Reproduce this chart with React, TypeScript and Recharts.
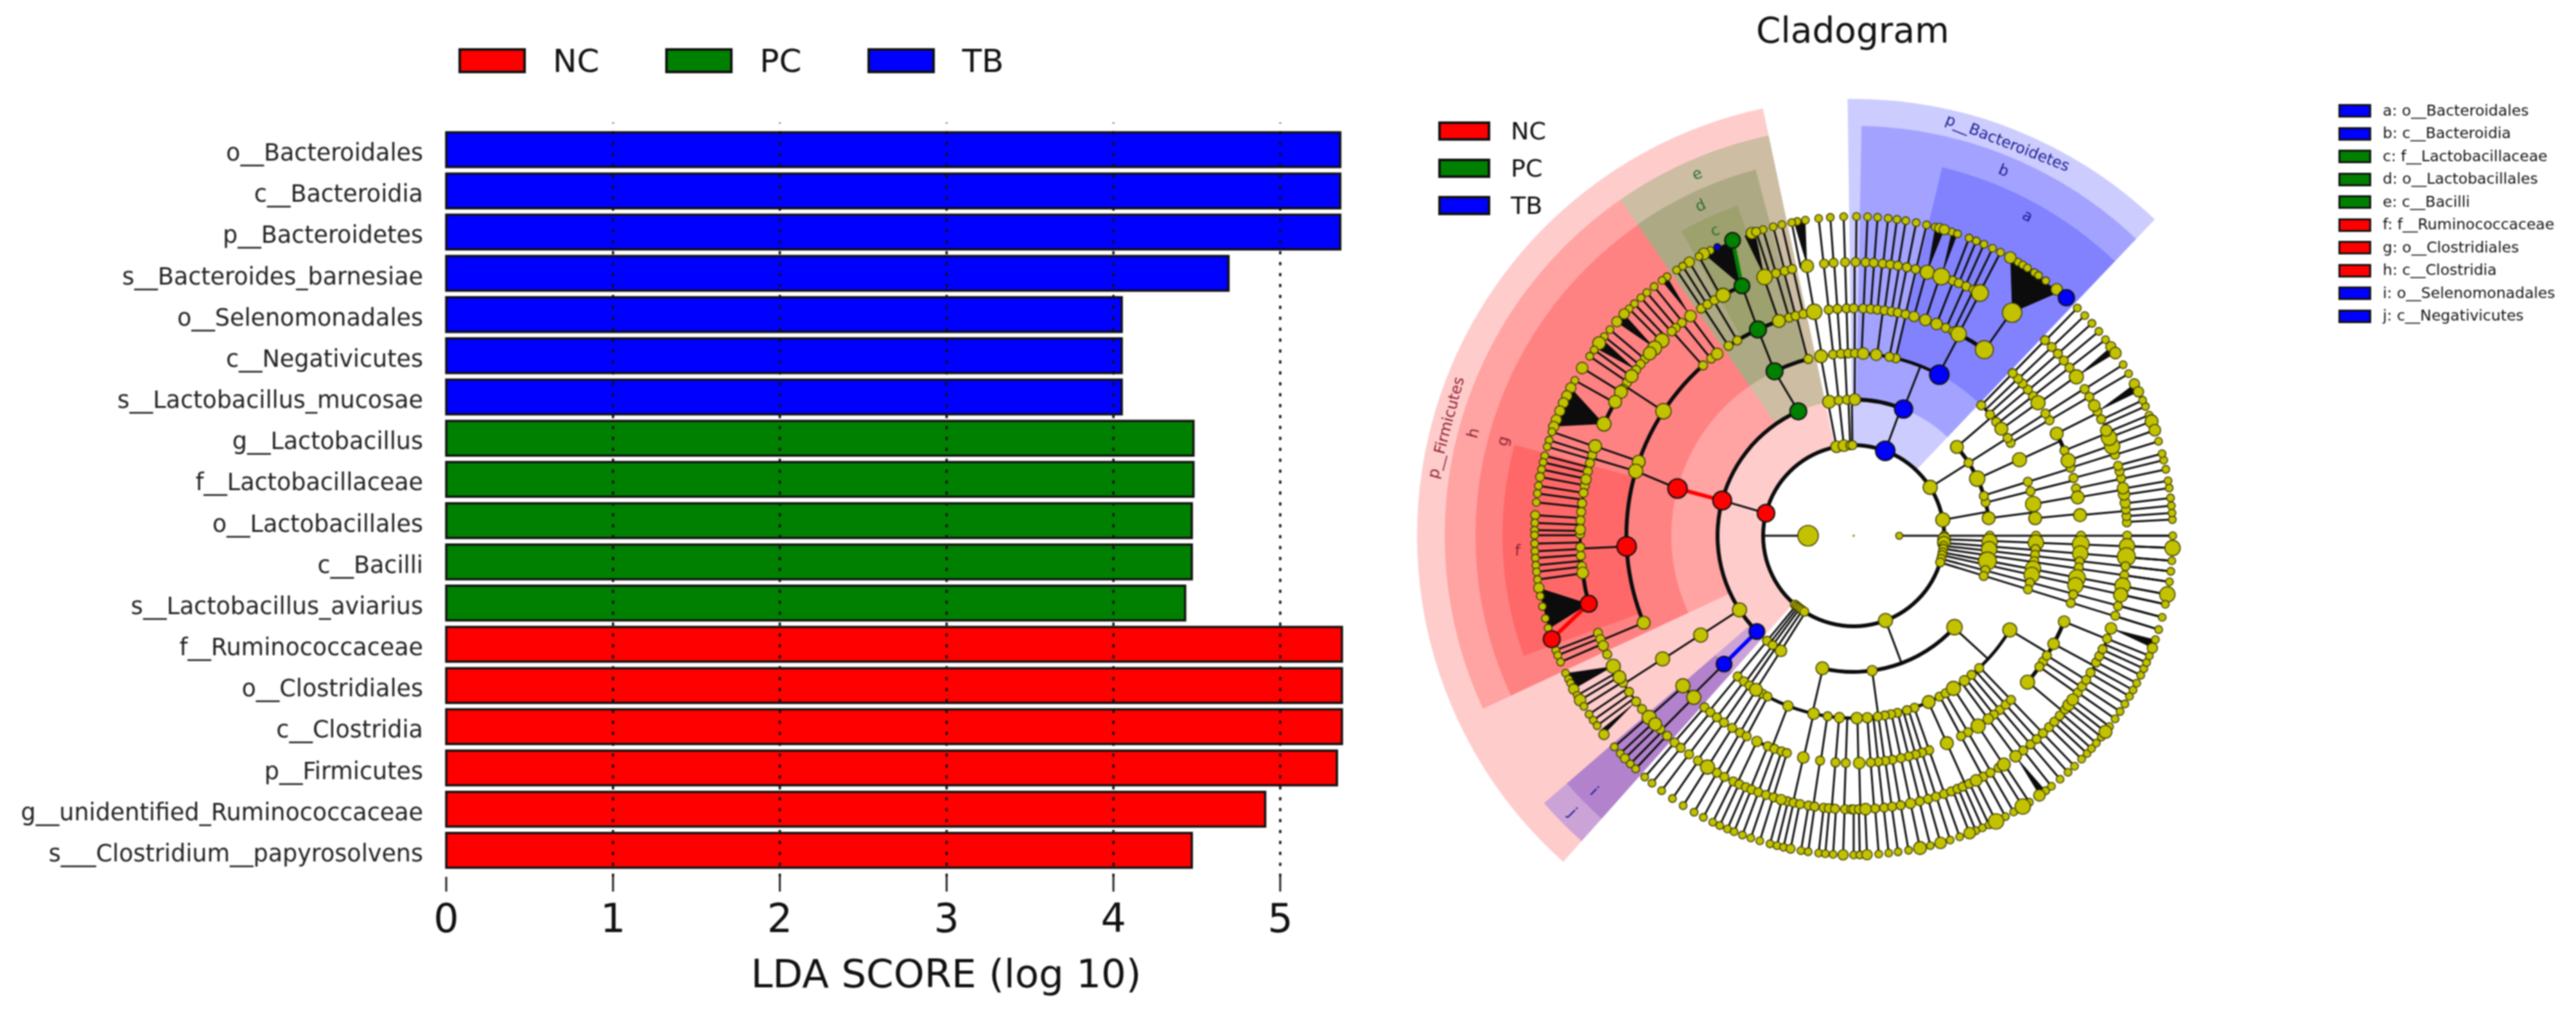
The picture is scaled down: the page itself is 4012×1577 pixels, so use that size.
import React from 'react';
import { BarChart, Bar, XAxis, YAxis, ReferenceLine, PieChart, Pie, ScatterChart, Scatter } from 'recharts';

const FONT = '"DejaVu Sans", sans-serif';
const RED = '#FF0000';
const GREEN = '#008000';
const BLUE = '#0000FF';
const OLIVE = '#C2C200';
// tints that stack to the brownish and purple overlaps of the clade shading
const ORDER_GREEN = '#305810';
const FAMILY_GREEN = '#608010';
const ORDER_PURPLE = '#4C00A4';

// ---- LDA bars
const taxa = [
  'o__Bacteroidales', 'c__Bacteroidia', 'p__Bacteroidetes', 's__Bacteroides_barnesiae', 'o__Selenomonadales',
  'c__Negativicutes', 's__Lactobacillus_mucosae', 'g__Lactobacillus', 'f__Lactobacillaceae', 'o__Lactobacillales',
  'c__Bacilli', 's__Lactobacillus_aviarius', 'f__Ruminococcaceae', 'o__Clostridiales', 'c__Clostridia',
  'p__Firmicutes', 'g__unidentified_Ruminococcaceae', 's___Clostridium__papyrosolvens',
];
const tbScores = [5.36, 5.36, 5.36, 4.69, 4.05, 4.05, 4.05];
const pcScores = [4.48, 4.48, 4.47, 4.47, 4.43];
const ncScores = [5.37, 5.37, 5.37, 5.34, 4.91, 4.47];
const scoreTicks = [0, 1, 2, 3, 4, 5];
const gridTicks = [1, 2, 3, 4, 5];

const barRows = taxa.map((name, i) => ({
  name,
  TB: i < 7 ? tbScores[i] : null,
  PC: i >= 7 && i < 12 ? pcScores[i - 7] : null,
  NC: i >= 12 ? ncScores[i - 12] : null,
}));

// ---- legends
const groups = [
  { label: 'NC', color: RED },
  { label: 'PC', color: GREEN },
  { label: 'TB', color: BLUE },
];
const cladeKey = [
  { label: 'a: o__Bacteroidales', color: BLUE },
  { label: 'b: c__Bacteroidia', color: BLUE },
  { label: 'c: f__Lactobacillaceae', color: GREEN },
  { label: 'd: o__Lactobacillales', color: GREEN },
  { label: 'e: c__Bacilli', color: GREEN },
  { label: 'f: f__Ruminococcaceae', color: RED },
  { label: 'g: o__Clostridiales', color: RED },
  { label: 'h: c__Clostridia', color: RED },
  { label: 'i: o__Selenomonadales', color: BLUE },
  { label: 'j: c__Negativicutes', color: BLUE },
];

// ---- cladogram: radius of each taxonomic level
const levelRadii = [0, 71, 141, 212, 284, 354, 426, 497];

// shaded clades: label, colour, inner level, outer radius, start and end angle
type Wedge = [string, string, number, number, number, number];
const wedges: Wedge[] = [
  ['p__Firmicutes', RED, 141, 680, 102, 228.3],
  ['h', RED, 212, 637, 124.8, 205],
  ['g', RED, 284, 589, 124.8, 205],
  ['f', RED, 354, 547, 165, 200],
  ['p__Bacteroidetes', BLUE, 141, 680, 46.4, 90.8],
  ['b', BLUE, 212, 638, 46.4, 88.9],
  ['a', BLUE, 284, 590, 46.4, 76.5],
  ['e', GREEN, 212, 637, 102, 124.8],
  ['d', ORDER_GREEN, 284, 590, 105, 124.8],
  ['c', FAMILY_GREEN, 354, 545, 109.4, 119.5],
  ['j', BLUE, 212, 637, 220.8, 228.3],
  ['i', ORDER_PURPLE, 284, 590, 220.8, 228.3],
];
const wedgeTextColors: Record<string, string> = {
  [RED]: '#8a2230', [BLUE]: '#1c1c90', [GREEN]: '#2c6e2c', [ORDER_GREEN]: '#2c6e2c', [FAMILY_GREEN]: '#2c6e2c', [ORDER_PURPLE]: '#1c1c90',
};

// heavy arcs: level, from angle, to angle, width
const arcs: [number, number, number, number][] = [
  [2, 0, 360, 6], [3, 114, 224.7, 6], [3, 68.5, 100.4, 6], [3, 7.4, 40.7, 6], [3, 256.7, 317.8, 6],
  [4, 62, 87, 5], [4, 104.4, 115.7, 6], [4, 30.6, 32.4, 4], [4, 35.9, 45.6, 4], [4, 237.6, 328.9, 5],
  [5, 54.9, 62.5, 6], [5, 100, 123.4, 6], [5, 131.5, 202.5, 6], [5, 17.4, 26.7, 6], [5, 221.3, 225.3, 4],
  [5, 319.9, 337.8, 6], [5, 244.8, 252.9, 5],
  [6, 134.5, 150.7, 3], [6, 150.7, 155.9, 6], [6, 160.9, 194.4, 4], [6, 187.8, 194.4, 6], [6, 200.8, 205.7, 3],
  [6, 208.5, 227, 3], [6, 114.1, 123.9, 6], [6, 103, 109, 4], [6, 323, 340.2, 3], [6, 306.3, 312, 3],
  [6, 2.8, 6.9, 3], [6, 8.7, 14.8, 3], [6, 17.2, 22.6, 3], [6, 25.2, 28.4, 3],
];

// radial runs: from level, to level, angles
const spokeRuns: [number, number, number[]][] = [
  [1, 2, [180, 0]],
  [2, 7, [0, -2.2, -4.5, -6.4, -8.3, -10.6, -12.4, -14.8, -17.1]],
  [2, 3, [10.1, 32.3, 100.9, 96.2, 92.2, 90.8, 69.6, 230.5, 232, 233.5, 235.5, 237.7, 290.6]],
  [3, 4, [7.4, 14.1, 17.2, 24.7, 32.4, 40.7, 100.4, 96.3, 92.8, 89.6, 68.5, 213, 230.5, 233.5, 235.2, 237.6, 256.9, 277.8, 317.5]],
  [4, 5, [5.5, 10, 14.1, 17.2, 24.6, 30.6, 32.5, 35.8, 37.9, 40, 42, 43.7, 45.6, 104.6, 100, 96.4, 94.1, 91.8, 89.7, 87.5, 82.6, 78.7, 76.7, 62.2, 212.9, 224.7,
    230.5, 233, 235.2, 237.7, 240, 241.9, 248.9, 257.3, 261.7, 265.4, 268, 271.2, 274.3, 276.2, 277.8, 279.8, 282, 284, 285.8, 287.5, 289.4, 294.2, 298.2, 300.2, 303.2, 306.3, 308.1, 310, 312, 313.8, 328.9]],
  [5, 6, [5.2, 9.7, 12, 14.7, 17.4, 19.3, 22, 26.7, 30.5, 32.5, 35.6, 37.9, 39.8, 41.7, 43.6, 45.6,
    54.8, 62.5, 64, 66, 68.6, 71.6, 74.6, 76.8, 78.8, 80.4, 82.2, 84, 85.7, 87.5, 89.8, 91.8, 94.1, 96.3, 100, 102.8, 104.8, 106.5, 109.2, 120.8, 123.4,
    126.7, 128.9, 131.6, 146.8, 160.9, 163.5, 182.7, 202.5, 212.8, 221.5, 225.3,
    229, 230.9, 233, 235.2, 237.7, 240, 241.9, 244.8, 247.8, 249.6, 251.5, 252.9, 257.2, 261.5, 265.4, 268, 271.4, 274.3, 276.2, 278, 279.8, 282, 284, 285.8, 287.5, 289.4, 294.2, 298.2, 300.2, 303.2, 306.3, 308.3, 310.3, 312, 313.8, 320, 324.8, 326.4, 328.2, 331.6, 337.8]],
];

// slanted single links: angle, level, angle, level
const links: [number, number, number, number][] = [
  [165.6, 2, 165, 3], [165, 4, 163.5, 5], [114, 3, 115.7, 4], [115.7, 4, 114.9, 5], [114.9, 5, 114.1, 6],
];
// coloured biomarker branches: angle, level, angle, level, colour
const markerBranches: [number, number, number, number, string][] = [
  [165, 3, 165, 4, RED], [194.4, 6, 198.9, 7, RED], [224.7, 3, 224.7, 4, BLUE], [114.1, 6, 112.3, 7, GREEN],
];
// dense fans: parent level 6 angle, then the span of tips on level 7
const fans: [number, number, number][] = [
  [54.6, 60.6, 49.8], [155.9, 152.4, 160], [194.4, 189.4, 197], [208.5, 205.5, 208.7], [114.1, 118, 112.6],
  [99.8, 100.8, 98.7], [74.4, 75.2, 73.5], [71.3, 72.1, 71], [340.2, 341, 339.4], [306.3, 307, 305.6],
  [35.5, 36.3, 34.9], [27, 28.4, 26.8], [109, 110, 108], [217.3, 218.5, 217.5], [126.6, 125.8, 127],
  [136.7, 136, 138], [142.7, 142, 144],
];

// nodes per level, plain angle = small dot, [angle, radius] = larger dot
type NodeList = (number | [number, number])[];
const level1: NodeList = [[180, 16], [0, 5.5]];
const level2: NodeList = [0, [-2.2, 10], [-4.5, 10], -6.4, -8.3, -10.6, -12.4, -14.8, -17.1,
  [10.1, 11], [32.3, 11], [100.9, 9], [96.2, 9], 92.2, 90.8, [290.6, 11],
  229.5, 231, 232.5, 234, 235.5, 237];
const level3: NodeList = [0, [-2.5, 12], [-5.7, 12], [-10.7, 14], -14.6, -17.2,
  [7.4, 10], 14.2, 17, [24.8, 12], 32.4, [40.7, 10], [100.4, 10], 96.3, 92.8, [89.5, 9],
  [213, 11], 230.5, 233.5, [237.7, 9], [256.7, 10], [277.8, 8], [317.8, 12]];
const level4: NodeList = [0, [-2.2, 12], -4.2, -6, -8, [-10.4, 12], [-12.4, 12], -14.9, -17.1,
  96.5, 94, 91.7, 89.6, 76.6, 78.7, 104.4, 14.1, 17.2, 30.6, 32.4, 38.6, 41.6, 45.6,
  230.5, 233, 235.2, 240, 241.8, 310.3, 313.5, 298.1, 300.3, 289.5, 287, 283.9, 281.8, 279.8, 277.6,
  [100.3, 10], [87, 9], [82.9, 9], [5.5, 10], [10, 12], [24.6, 11], [35.9, 10], [213, 11], [237.6, 10], [248.9, 8],
  [257.3, 9], [261.8, 7], [265.5, 8], [271, 9], [274.3, 8], [294.3, 10], [303.2, 11], [307.4, 8], [328.9, 11]];
const level5: NodeList = [0, [-2.1, 13], [-4.5, 12], -6.5, -8, [-10.7, 13], [-12.6, 12], -15, -17.2,
  123.4, 120.8, 106.5, 104.8, 102.8, 96.3, 94.1, 91.8, 90, 87.6, 85.7, 84, 82.2, 80.4, 78.8, 76.8, 66.1, 64, 131.5, 128.8,
  14.7, 12, 17.4, 22, 37.9, 40, 42, 43.7, 45.6, 30.5, 32.5, 229, 230.9, 233, 235.2, 237.7, 240, 241.9,
  247.8, 249.6, 251.5, 252.9, 261.5, 265.4, 268, 310, 312, 313.8, 308.1, 300.2, 298.2,
  289.4, 287.5, 285.8, 284, 282, 279.8, 278, 276.2, 274.3, 326.4, 324.8, 328.2,
  [109.2, 10], [100, 12], [74.6, 8], [71.6, 9], [68.6, 9], [62.5, 12], [54.9, 14], [126.9, 9], [146.8, 12], [161, 10], [163.5, 11],
  [202.5, 10], [212.8, 11], [221.3, 11], [225.3, 11], [5.2, 10], [9.7, 10], [19.3, 11], [26.7, 10], [35.8, 11], [244.8, 8],
  [257.2, 9], [271.4, 9], [294.2, 10], [303.2, 11], [306.3, 8], [319.9, 11], [331.6, 9], [337.8, 9]];
const level6: NodeList = [0, [-2.2, 12], [-4.4, 14], -6.4, -8.3, [-10.5, 12], [-12.5, 11], -14.9, -17,
  106.5, 104.6, 103, 96.2, 94.2, 91.8, 89.6, 87.5, 85.8, 83.9, 82.3, 80.7, 78.8, 76.9, 68.8, 67.4, 65.7, 64, 123.9, 122.3, 120.6,
  128.9, 130.6, 131.7, 139.7, 141.2, 142.7, 146, 147.5, 162.9, 164.6, 166.4, 169.5, 171, 173.2, 175, 176.8, 179.6, 182.4, 184.2, 186.4,
  200.8, 202.2, 205.7, 212.5, 214.8, 217.3, 219.3, 225, 227, 2.8, 4.1, 5.5, 12.1, 13.6, 14.8, 17.2, 25.2, 27, 30.5, 32.4, 37.9, 39.8, 41.7, 43.6, 45.6,
  229.1, 230.8, 233, 235.3, 240, 241.8, 243.9, 245.3, 246.8, 248.1, 249.6, 251.3, 253, 256, 257.3, 258.7, 260.5, 261.8, 263.7, 264.8, 266.1, 268.2, 269.5, 270, 271.1,
  274.5, 276.4, 278.1, 279.9, 284, 285.8, 287.5, 289.3, 290.9, 292.3, 293.5, 295, 298.3, 300, 302, 308.3, 310.3, 312, 313.8, 315.6, 317.2, 318.9, 320.6,
  325, 326.6, 328.2, 330, 332.4, 333.9, 335.5, 337.9,
  [118.5, 11], [109, 12], [99.8, 10], [74.4, 11], [71.3, 13], [62.5, 13], [54.6, 15], [126.6, 9], [134.5, 11], [136.7, 11], [138.2, 10], [144.3, 10], [148.3, 10], [150.7, 10],
  [155.9, 11], [160.9, 10], [168.1, 8], [178.7, 8], [187.8, 9], [203.7, 8], [208.5, 11], [211.1, 10], [221.6, 11], [223.5, 10], [6.9, 8], [8.7, 9], [10, 9], [19.1, 12], [21, 12],
  [22.6, 9], [28.4, 9], [35.5, 11], [237.7, 11], [254.6, 8], [282, 8], [272.5, 9], [296.6, 9], [303.3, 10], [306.3, 9], [321.8, 9], [323.2, 9], [340.2, 9]];
const level7: NodeList = [0, [-2.2, 12], -4.5, -6.4, -8.3, [-10.6, 12], -12.4, -14.8, -17.1,
  89.5, 87.5, 85.7, 83.8, 82.2, 80.6, 78.7, 76.8, 75.2, 72.1, 71, 68.8, 67.4, 65.9, 64.2, 62.6, 59, 58, 57, 55.5, 54.6, 53, 49.8,
  [74.4, 7.5], [73.5, 8], [60.6, 9], [50.5, 9],
  91.8, 94.2, 96.3, 98.7, 100.2, 101.2, 103, 104.6, 106.5, [108.6, 9], [107.8, 7], 116.7, [118, 9], 119, [121, 8], 122.4, 123.7,
  125.8, 126.9, 128.7, 130.4, 131.8, 133.4, 134.7, [136, 8], [137.9, 8], 139.8, 141.4, [142.9, 10], 144.4, 145.8, [148.3, 9], 150.9,
  [152.4, 8], [154, 8], [155.4, 8], [157, 8], [158.7, 8], [160, 8], 161,
  162.6, 163.8, 165.5, 166.7, 168, [169.4, 7], 171, 172.4, 174, [176.3, 7], 177.7, 179, 179.9, 181.4, 182.8, 184, 185.3, 186.5, 187.9,
  [189.4, 8], 190.9, 192.8, 195, 196.8, 201, 202, 203.3, 205.5, 206.7, 207.5, [208.7, 8], 210, [211, 9], 212.3, 214, 215.3, 216.5, [218.5, 8],
  221.4, 223, [224.2, 7], 225.6, 226.9,
  229.1, 230.8, 233, 235.4, 237.7, 240, 241.9, 243.8, 245.2, 246.7, 248, 249.6, 251.2, 252.9, 254.8, 256.1, 257.3, 260.5, 261.8, 263.7, 264.9, 266.3, 270, 271.1,
  274.5, 276.3, 278, 279.9, 283.9, 287.6, 289.4, 292.5, 293.8, 295.1, 298.4, 300.1, 303.4, 307, 308.3, 310.3, 312.2, 313.8, 315.6, 317, 318.2, 319.5, 320.9,
  323.3, 325, 326.6, 328.2, 329.8, 331.1, 332.5, 334.1, 335.4, 336.6, 337.9, 341,
  2.9, 4.1, 5.4, 6.8, 8.6, 9.9, 12, 13.7, 14.9, 17.2, 22.2, 23.9, 25.1, 30.5, 32.4, 37.9, 39.8, 41.7, 43.6, 45.5,
  [258.6, 7], [268.1, 8], [272.4, 8], [282, 10], [285.8, 9], [291.3, 9], [296.5, 12], [302, 12], [305.6, 9], [322.1, 10], [339.4, 8],
  [21, 10], [19.3, 9], [28.4, 8], [26.8, 8], [36.3, 8], [34.9, 9]];
const nodeLevels = [level1, level2, level3, level4, level5, level6, level7];

// biomarker nodes: level, angle, radius
const ncMarkers = [[2, 165.6, 13.5], [3, 165, 14.5], [4, 165, 15], [5, 182.7, 15], [6, 194.4, 13], [7, 198.9, 13]];
const pcMarkers = [[3, 114, 13], [4, 115.7, 13], [5, 114.9, 13], [6, 114.1, 12], [7, 112.3, 12]];
const tbMarkers = [[2, 69.6, 15], [3, 68.5, 14], [4, 62, 15], [7, 48.2, 12.5], [3, 224.7, 12], [4, 224.7, 12], [7, 115.3, 5]];

const CLADE_SIZE = 1400;
const CLADE_CX = 2887;
const CLADE_CY = 834;

const polar = (level: number, angle: number) => {
  const rad = (angle * Math.PI) / 180;
  return { x: levelRadii[level] * Math.cos(rad), y: levelRadii[level] * Math.sin(rad) };
};

const edge = (a1: number, l1: number, a2: number, l2: number, color = '#0c0c0c', width = 3) => {
  const from = polar(l1, a1);
  const to = polar(l2, a2);
  return { x: from.x, y: from.y, x2: to.x, y2: to.y, color, width };
};

const inFan = (angle: number) =>
  fans.some(([, a, b]) => angle <= Math.max(a, b) && angle >= Math.min(a, b));

const tipAngles = level7.map((n) => (Array.isArray(n) ? n[0] : n)).filter((a) => !inFan(a));

const edgeRows = [
  ...spokeRuns.flatMap(([from, to, angles]) => angles.map((a) => edge(a, from, a, to))),
  ...tipAngles.map((a) => edge(a, 6, a, 7)),
  ...links.map(([a1, l1, a2, l2]) => edge(a1, l1, a2, l2)),
  ...markerBranches.map(([a1, l1, a2, l2, c]) => edge(a1, l1, a2, l2, c, 6)),
];

const fanRows = fans.map(([parent, a, b]) => {
  const p = polar(6, parent);
  const t1 = polar(7, a);
  const t2 = polar(7, b);
  return { x: p.x, y: p.y, x2: t1.x, y2: t1.y, x3: t2.x, y3: t2.y };
});

const nodeRows = nodeLevels.flatMap((list, i) =>
  list.map((n) => {
    const [angle, r] = Array.isArray(n) ? n : [n, i === 6 ? 6 : 7];
    return { ...polar(i + 1, angle), r };
  })
);
const rootRow = [{ x: 0, y: 0, r: 2 }];
const markerRows = (list: number[][]) => list.map(([l, a, r]) => ({ ...polar(l, a), r }));

// the cladogram plot uses one data unit per pixel
const EdgeShape = ({ cx, cy, payload }: any) => (
  <line x1={cx} y1={cy} x2={cx + payload.x2 - payload.x} y2={cy - (payload.y2 - payload.y)}
    stroke={payload.color} strokeWidth={payload.width} strokeLinecap="round" />
);
const FanShape = ({ cx, cy, payload }: any) => (
  <polygon
    points={`${cx},${cy} ${cx + payload.x2 - payload.x},${cy - (payload.y2 - payload.y)} ${cx + payload.x3 - payload.x},${cy - (payload.y3 - payload.y)}`}
    fill="#0c0c0c" />
);
const dot = (fill: string, stroke: string, strokeWidth: number) => ({ cx, cy, payload }: any) => (
  <circle cx={cx} cy={cy} r={payload.r} fill={fill} stroke={stroke} strokeWidth={strokeWidth} />
);

const Swatches = ({ items, style, w, h, gap, border, fontSize, rowGap, row }: any) => (
  <div style={{ position: 'absolute', display: 'flex', flexDirection: row ? 'row' : 'column', fontFamily: FONT, ...style }}>
    {items.map((it: any) => (
      <div key={it.label} style={{ display: 'flex', alignItems: 'center', height: h, marginRight: row ? rowGap : 0, marginBottom: row ? 0 : rowGap }}>
        <div style={{ width: w, height: h, boxSizing: 'border-box', background: it.color, border: `${border}px solid #111` }} />
        <span style={{ marginLeft: gap, fontSize, lineHeight: 1, color: '#111', whiteSpace: 'nowrap' }}>{it.label}</span>
      </div>
    ))}
  </div>
);

const WedgeLabel = (w: Wedge) => () => {
  const [name, color, , outer, start, end] = w;
  const mid = (start + end) / 2;
  const rad = (mid * Math.PI) / 180;
  const r = outer - 23;
  const x = CLADE_SIZE / 2 + r * Math.cos(rad);
  const y = CLADE_SIZE / 2 - r * Math.sin(rad);
  const angle = mid > 180 ? mid - 180 : 90 - mid;
  return (
    <text x={x} y={y} transform={`rotate(${angle} ${x} ${y})`} textAnchor="middle" dominantBaseline="central"
      fontSize={24} fontFamily={FONT} fill={wedgeTextColors[color]}>
      {name}
    </text>
  );
};

const App = () => (
  <div style={{ position: 'absolute', left: 0, top: 0, width: 4012, height: 1577, background: '#fff', overflow: 'hidden', filter: 'blur(1.1px)' }}>
    <Swatches items={groups} row style={{ left: 714, top: 75 }} w={105} h={39} gap={42} border={4} fontSize={50} rowGap={103} />

    <div style={{ position: 'absolute', left: 0, top: 0 }}>
      <BarChart width={2100} height={1577} layout="vertical" data={barRows} margin={{ top: 169, right: 10, bottom: 22, left: 0 }} barCategoryGap={10}>
        <XAxis xAxisId="top" orientation="top" type="number" domain={[0, 5.37]} ticks={scoreTicks} height={22} tickSize={22}
          tick={() => <g />} axisLine={false} tickLine={{ stroke: '#222', strokeWidth: 3 }} />
        <XAxis type="number" domain={[0, 5.37]} ticks={scoreTicks} height={190} tickSize={23} tickMargin={19} axisLine={false}
          tickLine={{ stroke: '#222', strokeWidth: 3 }} tick={{ fontSize: 62, fontFamily: FONT, fill: '#111' }}
          label={{ value: 'LDA SCORE (log 10)', position: 'insideBottom', dx: 81, offset: 18, fontSize: 61, fontFamily: FONT, fill: '#111' }} />
        <YAxis type="category" dataKey="name" width={695} interval={0} tickLine={false} axisLine={false} tickSize={0} tickMargin={36}
          padding={{ top: 10, bottom: 9 }} tick={{ fontSize: 36.5, fontFamily: FONT, fill: '#222', dy: 4 }} />
        <Bar dataKey="NC" stackId="lda" fill={RED} stroke="#111" strokeWidth={3.5} barSize={54} isAnimationActive={false} />
        <Bar dataKey="PC" stackId="lda" fill={GREEN} stroke="#111" strokeWidth={3.5} barSize={54} isAnimationActive={false} />
        <Bar dataKey="TB" stackId="lda" fill={BLUE} stroke="#111" strokeWidth={3.5} barSize={54} isAnimationActive={false} />
        {gridTicks.map((t) => (
          <ReferenceLine key={t} x={t} stroke="#111" strokeWidth={3.5} strokeDasharray="5 12" />
        ))}
      </BarChart>
    </div>

    <div style={{ position: 'absolute', left: 2735, top: 15, fontFamily: FONT, fontSize: 55, lineHeight: '64px', color: '#111' }}>Cladogram</div>
    <Swatches items={groups} style={{ left: 2240, top: 189 }} w={81} h={30} gap={32} border={4} fontSize={38} rowGap={28} />
    <Swatches items={cladeKey} style={{ left: 3642, top: 162 }} w={51} h={21} gap={18} border={3} fontSize={23.5} rowGap={14.5} />

    <div style={{ position: 'absolute', left: CLADE_CX - CLADE_SIZE / 2, top: CLADE_CY - CLADE_SIZE / 2 }}>
      <PieChart width={CLADE_SIZE} height={CLADE_SIZE} margin={{ top: 0, right: 0, bottom: 0, left: 0 }}>
        {wedges.map((w) => (
          <Pie key={w[0]} data={[{ name: w[0], value: 1 }]} dataKey="value" cx={CLADE_SIZE / 2} cy={CLADE_SIZE / 2}
            innerRadius={w[2]} outerRadius={w[3]} startAngle={w[4]} endAngle={w[5]} fill={w[1]} fillOpacity={0.2}
            stroke="none" label={WedgeLabel(w)} labelLine={false} isAnimationActive={false} />
        ))}
        {arcs.map(([level, a1, a2, width], i) => (
          <Pie key={i} data={[{ name: 'arc', value: 1 }]} dataKey="value" cx={CLADE_SIZE / 2} cy={CLADE_SIZE / 2}
            innerRadius={levelRadii[level] - width / 2} outerRadius={levelRadii[level] + width / 2}
            startAngle={a1} endAngle={a2} fill="#0c0c0c" stroke="none" isAnimationActive={false} />
        ))}
      </PieChart>
    </div>

    <div style={{ position: 'absolute', left: CLADE_CX - CLADE_SIZE / 2, top: CLADE_CY - CLADE_SIZE / 2 }}>
      <ScatterChart width={CLADE_SIZE} height={CLADE_SIZE} margin={{ top: 0, right: 0, bottom: 0, left: 0 }}>
        <XAxis type="number" dataKey="x" domain={[-700, 700]} hide />
        <YAxis type="number" dataKey="y" domain={[-700, 700]} hide />
        <Scatter data={fanRows} shape={FanShape} isAnimationActive={false} />
        <Scatter data={edgeRows} shape={EdgeShape} isAnimationActive={false} />
        <Scatter data={nodeRows} shape={dot(OLIVE, '#3d3d00', 1.6)} isAnimationActive={false} />
        <Scatter data={rootRow} shape={dot('#9a9a40', 'none', 0)} isAnimationActive={false} />
        <Scatter data={markerRows(ncMarkers)} shape={dot(RED, '#111', 2.2)} isAnimationActive={false} />
        <Scatter data={markerRows(pcMarkers)} shape={dot(GREEN, '#111', 2.2)} isAnimationActive={false} />
        <Scatter data={markerRows(tbMarkers)} shape={dot(BLUE, '#111', 2.2)} isAnimationActive={false} />
      </ScatterChart>
    </div>
  </div>
);

export default App;
